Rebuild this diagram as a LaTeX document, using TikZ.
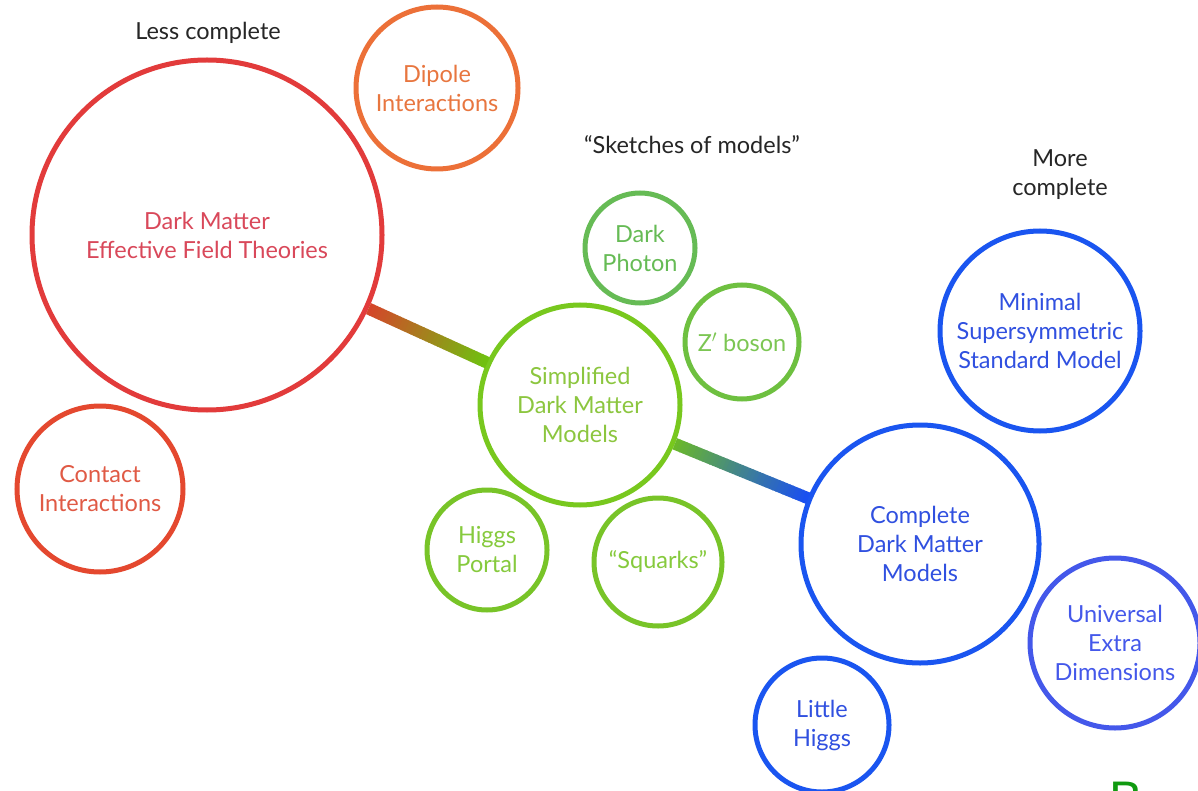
\documentclass[tikz,border=0pt]{standalone}
\usepackage{fontspec}
\setmainfont{Lato}
\usetikzlibrary{calc}
\definecolor{redC}{HTML}{E23B3B}
\definecolor{redT}{HTML}{D9485A}
\definecolor{orgC}{HTML}{EC7038}
\definecolor{orgT}{HTML}{E8763F}
\definecolor{conC}{HTML}{E4482F}
\definecolor{conT}{HTML}{E05A45}
\definecolor{grnC}{HTML}{78C81E}
\definecolor{grnT}{HTML}{8CC63F}
\definecolor{dphC}{HTML}{66BB55}
\definecolor{zbC}{HTML}{6EC040}
\definecolor{hpC}{HTML}{78C428}
\definecolor{blueC}{HTML}{1A55F0}
\definecolor{blueT}{HTML}{3050E0}
\definecolor{uedC}{HTML}{4458EA}
\definecolor{linkA}{HTML}{D5452A}
\definecolor{linkB}{HTML}{70C010}
\definecolor{linkC}{HTML}{6AB82A}
\definecolor{linkD}{HTML}{1A50F0}
\definecolor{bgreen}{HTML}{109A10}
\tikzset{
  bubble/.style={circle, draw, line width=5pt, inner sep=0pt, align=center,
    font=\fontsize{23.5}{29}\selectfont},
  lbl/.style={align=center, font=\fontsize{23.5}{29}\selectfont, text=black!85},
}
\begin{document}
\begin{tikzpicture}[x=1pt,y=-1pt]
\useasboundingbox[fill=white] (0,0) rectangle (1198,791);
% labels
\node[lbl] (lc) at (208,33) {Less complete};
\node[lbl] (sk) at (692,145) {``Sketches of models''};
\node[lbl] (mc) at (1060,175) {More\\complete};
% red group
\node[bubble, draw=redC, text=redT, minimum size=350pt] (edft) at (207,235) {Dark Matter\\Effective Field Theories};
\node[bubble, draw=orgC, text=orgT, minimum size=162pt] (dip) at (437,88) {Dipole\\Interactions};
\node[bubble, draw=conC, text=conT, minimum size=166pt] (con) at (100,489) {Contact\\Interactions};
% green group
\node[bubble, draw=grnC, text=grnT, minimum size=200pt] (sdm) at (580,405) {Simplified\\Dark Matter\\Models};
\node[bubble, draw=dphC, text=dphC, minimum size=110pt] (dph) at (640,248) {Dark\\Photon};
\node[bubble, draw=zbC, text=zbC!90, minimum size=114pt] (zb) at (742,342) {Z$'$ boson};
\node[bubble, draw=hpC, text=hpC!90, minimum size=120pt] (hp) at (487,550) {Higgs\\Portal};
\node[bubble, draw=hpC, text=hpC!90, minimum size=128pt] (sq) at (658,562) {``Squarks''};
% blue group
\node[bubble, draw=blueC, text=blueT, minimum size=238pt] (cdm) at (920,544) {Complete\\Dark Matter\\Models};
\node[bubble, draw=blueC, text=blueT, minimum size=200pt] (mssm) at (1040,331) {Minimal\\Supersymmetric\\Standard Model};
\node[bubble, draw=uedC, text=uedC, minimum size=170pt] (ued) at (1115,643) {Universal\\Extra\\Dimensions};
\node[bubble, draw=blueC, text=blueT, minimum size=134pt] (lh) at (822,725) {Little\\Higgs};
% stray letter at the bottom edge
\node[anchor=base, text=bgreen, font=\fontspec{Liberation Sans}\fontsize{50}{50}\selectfont] (bl) at (1126,816) {B};
% gradient connectors
\path (edft) -- (sdm) coordinate[pos=0] (l1a) coordinate[pos=1] (l1b);
\path (sdm) -- (cdm) coordinate[pos=0] (l2a) coordinate[pos=1] (l2b);
\foreach \i in {0,...,39}{
  \pgfmathtruncatemacro\p{100-\i*100/39}
  \draw[line width=12pt, color=linkA!\p!linkB] ($(l1a)!\i/40!(l1b)$) -- ($(l1a)!\i/40+0.03!(l1b)$);
  \draw[line width=12pt, color=linkC!\p!linkD] ($(l2a)!\i/40!(l2b)$) -- ($(l2a)!\i/40+0.03!(l2b)$);
}
\end{tikzpicture}
\end{document}
